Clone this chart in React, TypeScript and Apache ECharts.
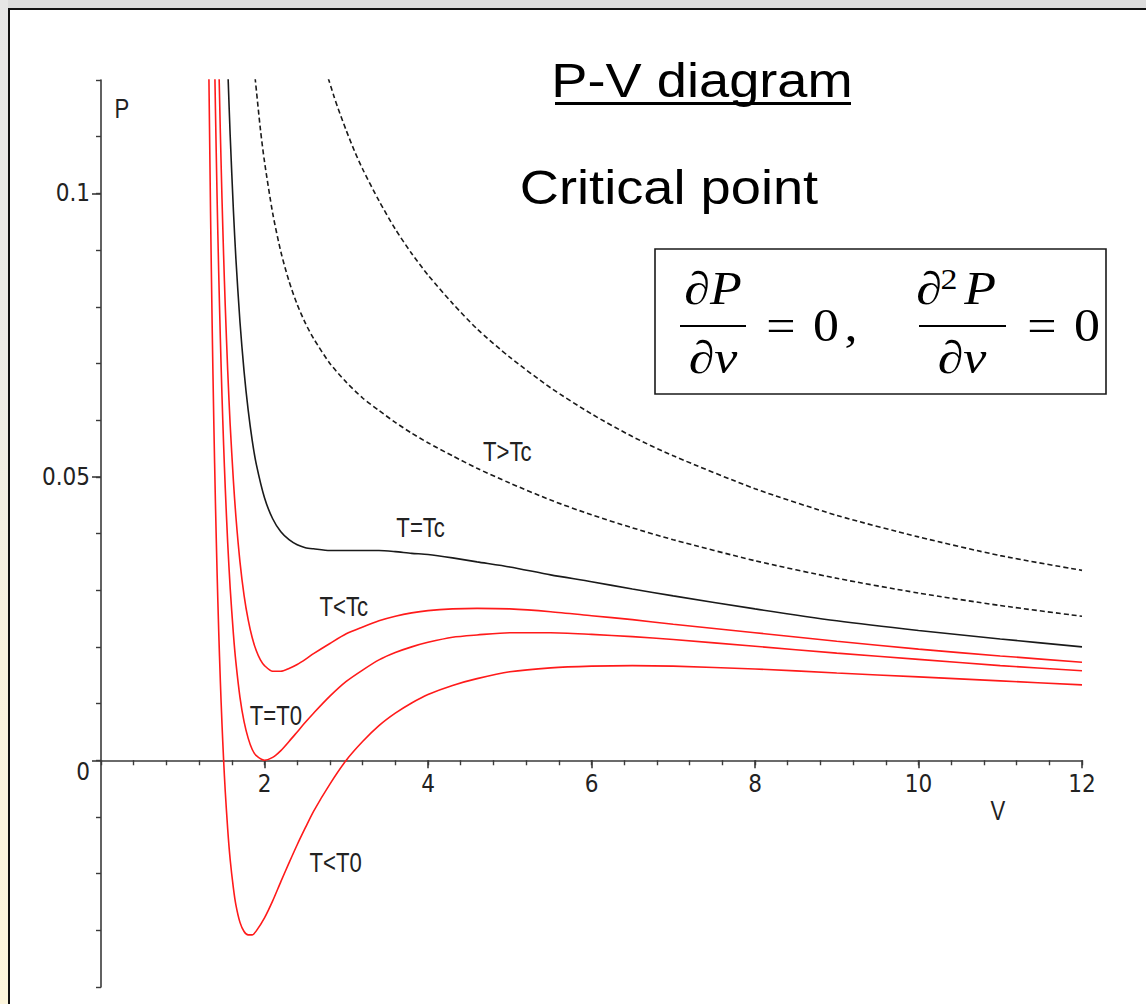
import React, { useEffect, useRef } from "react";
import * as echarts from "echarts";

// ---------- data ----------
const xMajorTicks = [0, 2, 4, 6, 8, 10, 12];
const yMajorTicks = [0, 0.05, 0.1];

// T > Tc (upper dashed curve)
const curveHot2: [number, number][] = [
  [2.78, 0.1203], [2.85, 0.1171], [2.9, 0.115], [3.0, 0.1111], [3.1, 0.1075], [3.2, 0.1043],
  [3.4, 0.0987], [3.6, 0.0937], [3.8, 0.0894], [4.0, 0.0856], [4.3, 0.0806], [4.6, 0.0761],
  [5.0, 0.0711], [5.5, 0.0657], [6.0, 0.0611], [6.5, 0.0571], [7.0, 0.0537], [8.0, 0.0479],
  [9.0, 0.0432], [10.0, 0.0394], [11.0, 0.0361], [12.0, 0.0335],
];
// T > Tc (lower dashed curve)
const curveHot1: [number, number][] = [
  [1.885, 0.1204], [1.95, 0.1113], [2.0, 0.1056], [2.1, 0.0965], [2.2, 0.0897], [2.3, 0.0845],
  [2.4, 0.0804], [2.5, 0.0771], [2.6, 0.0744], [2.8, 0.07], [3.0, 0.0667], [3.2, 0.0639],
  [3.4, 0.0617], [3.6, 0.0596], [3.8, 0.0577], [4.0, 0.056], [4.3, 0.0537], [4.6, 0.0515],
  [5.0, 0.0489], [5.5, 0.0459], [6.0, 0.0433], [6.5, 0.041], [7.0, 0.0389], [8.0, 0.0352],
  [9.0, 0.0321], [10.0, 0.0295], [11.0, 0.0273], [12.0, 0.0254],
];
// T = Tc
const curveCritical: [number, number][] = [
  [1.555, 0.1203], [1.58, 0.1103], [1.62, 0.0969], [1.65, 0.0885], [1.7, 0.0773], [1.75, 0.0686],
  [1.8, 0.0618], [1.85, 0.0564], [1.9, 0.0522], [2.0, 0.0463], [2.1, 0.0426], [2.2, 0.0403],
  [2.3, 0.0389], [2.4, 0.038], [2.5, 0.0375], [2.6, 0.0373], [2.8, 0.037], [3.0, 0.037],
  [3.2, 0.037], [3.4, 0.037], [3.6, 0.0368], [3.8, 0.0365], [4.0, 0.0363], [4.3, 0.0357],
  [4.6, 0.035], [5.0, 0.0341], [5.5, 0.0327], [6.0, 0.0315], [6.5, 0.0302], [7.0, 0.029],
  [8.0, 0.0267], [9.0, 0.0246], [10.0, 0.0229], [11.0, 0.0214], [12.0, 0.02],
];
// T < Tc
const curveSub: [number, number][] = [
  [1.445, 0.1204], [1.46, 0.1107], [1.48, 0.0991], [1.5, 0.089], [1.52, 0.0801], [1.55, 0.0687],
  [1.58, 0.0592], [1.62, 0.0492], [1.65, 0.043], [1.7, 0.035], [1.75, 0.0291], [1.8, 0.0248],
  [1.85, 0.0216], [1.9, 0.0193], [1.95, 0.0177], [2.0, 0.0167], [2.1, 0.0157], [2.2, 0.0157],
  [2.3, 0.0162], [2.4, 0.0169], [2.5, 0.0178], [2.6, 0.0188], [2.8, 0.0206], [3.0, 0.0223],
  [3.2, 0.0235], [3.4, 0.0246], [3.6, 0.0254], [3.8, 0.026], [4.0, 0.0264], [4.3, 0.0267],
  [4.6, 0.0268], [5.0, 0.0267], [5.5, 0.0262], [6.0, 0.0255], [6.5, 0.0248], [7.0, 0.024],
  [8.0, 0.0225], [9.0, 0.021], [10.0, 0.0196], [11.0, 0.0184], [12.0, 0.0173],
];
// T = T0
const curveT0: [number, number][] = [
  [1.39, 0.1234], [1.4, 0.1148], [1.42, 0.0993], [1.44, 0.0859], [1.46, 0.0744], [1.48, 0.0643],
  [1.5, 0.0556], [1.52, 0.048], [1.55, 0.0383], [1.58, 0.0304], [1.62, 0.0222], [1.65, 0.0173],
  [1.7, 0.0111], [1.75, 0.0068], [1.8, 0.0039], [1.85, 0.0019], [1.9, 0.0008], [2.0, 0.0],
  [2.1, 0.0005], [2.2, 0.0017], [2.3, 0.0033], [2.4, 0.005], [2.5, 0.0067], [2.6, 0.0083],
  [2.8, 0.0113], [3.0, 0.0139], [3.2, 0.0159], [3.4, 0.0177], [3.6, 0.019], [3.8, 0.02],
  [4.0, 0.0208], [4.3, 0.0217], [4.6, 0.0221], [5.0, 0.0225], [5.5, 0.0225], [6.0, 0.0222],
  [6.5, 0.0218], [7.0, 0.0213], [8.0, 0.0201], [9.0, 0.0189], [10.0, 0.0178], [11.0, 0.0167],
  [12.0, 0.0158],
];
// T < T0
const curveBelowT0: [number, number][] = [
  [1.32, 0.1205], [1.34, 0.0966], [1.36, 0.0765], [1.38, 0.0596], [1.4, 0.0453], [1.42, 0.0331],
  [1.44, 0.0227], [1.46, 0.0139], [1.48, 0.0064], [1.5, 0.0], [1.52, -0.0055], [1.55, -0.0122],
  [1.58, -0.0175], [1.62, -0.0226], [1.65, -0.0255], [1.7, -0.0286], [1.75, -0.0302],
  [1.8, -0.0308], [1.85, -0.0308], [1.9, -0.0301], [2.0, -0.0278], [2.1, -0.0248],
  [2.2, -0.0214], [2.3, -0.0181], [2.4, -0.0149], [2.5, -0.0119], [2.6, -0.009],
  [2.8, -0.0042], [3.0, 0.0], [3.2, 0.0033], [3.4, 0.0061], [3.6, 0.0083], [3.8, 0.0101],
  [4.0, 0.0116], [4.3, 0.0132], [4.6, 0.0144], [5.0, 0.0156], [5.5, 0.0163], [6.0, 0.0166],
  [6.5, 0.0167], [7.0, 0.0166], [8.0, 0.0161], [9.0, 0.0154], [10.0, 0.0147], [11.0, 0.014],
  [12.0, 0.0133],
];

// curve labels, anchored in data space [V, P]
const curveLabelNames = ["T>Tc", "T=Tc", "T<Tc", "T=T0", "T<T0"];
const curveLabelAnchors: [number, number][] = [
  [4.97, 0.0545], [3.91, 0.0411], [2.97, 0.027], [2.14, 0.0078], [2.87, -0.018],
];

// ---------- layout / styles ----------
const GRID = { left: 101, top: 80, width: 981, height: 907 };
const P_MIN = -0.04;
const P_MAX = 0.12;
// distance (px) from the grid bottom up to P = 0
const ZERO_OFFSET = (GRID.height * (0 - P_MIN)) / (P_MAX - P_MIN);

const NARROW = "'Liberation Sans Narrow', 'DejaVu Sans Condensed', 'Arial Narrow', sans-serif";
const SANS = "'Liberation Sans', Arial, sans-serif";
const SERIF = "'Liberation Serif', 'Times New Roman', serif";
const AXIS_COLOR = "#3a3a3a";
const TEXT_COLOR = "#222";
const RED = "#ff1a1a";
const BLACK = "#1a1a1a";
const STRETCH = 1.13;
const NARROWING = 0.82;

function txt(text: string, x: number, y: number, fontSize: number, fontFamily: string, extra: any = {}) {
  return {
    type: "text",
    x,
    y,
    scaleX: extra.scaleX ?? STRETCH,
    z: 50,
    silent: true,
    style: {
      text,
      fontSize,
      fontFamily,
      fontStyle: extra.fontStyle ?? "normal",
      fill: extra.fill ?? "#000",
      align: "center",
      textAlign: "center",
      verticalAlign: "middle",
      textVerticalAlign: "middle",
    },
  };
}

function staticGraphics() {
  return [
    // title
    txt("P-V diagram", 702, 81, 48, SANS),
    { type: "rect", silent: true, z: 50, shape: { x: 555, y: 102, width: 296, height: 3 }, style: { fill: "#000" } },
    txt("Critical point", 669, 188, 48, SANS),
    // formula box
    {
      type: "rect",
      silent: true,
      z: 40,
      shape: { x: 655, y: 249, width: 451, height: 145 },
      style: { fill: "#fff", stroke: "#1a1a1a", lineWidth: 1.6 },
    },
    txt("∂P", 713, 289, 46, SERIF, { fontStyle: "italic" }),
    { type: "rect", silent: true, z: 50, shape: { x: 680, y: 325, width: 66, height: 2 }, style: { fill: "#000" } },
    txt("∂v", 713, 358, 46, SERIF, { fontStyle: "italic" }),
    txt("=", 781, 326, 46, SERIF),
    txt("0", 826, 326, 46, SERIF),
    txt(",", 851, 326, 46, SERIF),
    txt("∂", 929, 289, 46, SERIF, { fontStyle: "italic" }),
    txt("2", 949, 279, 30, SERIF),
    txt("P", 980, 289, 46, SERIF, { fontStyle: "italic" }),
    { type: "rect", silent: true, z: 50, shape: { x: 919, y: 325, width: 87, height: 2 }, style: { fill: "#000" } },
    txt("∂v", 962, 358, 46, SERIF, { fontStyle: "italic" }),
    txt("=", 1042, 326, 46, SERIF),
    txt("0", 1087, 326, 46, SERIF),
    // axis names
    txt("P", 122, 109, 27, SANS, { scaleX: NARROWING, fill: TEXT_COLOR }),
    txt("V", 998, 811, 27, SANS, { scaleX: NARROWING, fill: TEXT_COLOR }),
  ];
}

function buildOption() {
  const lineSeries = (data: [number, number][], color: string, dashed: boolean) => ({
    type: "line",
    data,
    xAxisIndex: 0,
    yAxisIndex: 0,
    symbol: "none",
    showSymbol: false,
    smooth: 0.25,
    clip: true,
    silent: true,
    lineStyle: { color, width: 1.6, type: dashed ? [5, 3] : "solid" },
    z: 3,
  });

  const tickLabelStyle = { fontSize: 24, fontFamily: NARROW, color: TEXT_COLOR };

  return {
    animation: false,
    grid: { ...GRID, containLabel: false, outerBoundsMode: "none" },
    xAxis: [
      {
        type: "value",
        position: "bottom",
        offset: -ZERO_OFFSET,
        min: 0,
        max: 12,
        interval: 2,
        axisLine: { show: true, onZero: false, lineStyle: { color: AXIS_COLOR, width: 1.6 } },
        axisTick: { show: true, length: 8, lineStyle: { color: AXIS_COLOR, width: 1.6 } },
        axisLabel: {
          ...tickLabelStyle,
          showMinLabel: false,
          margin: 12,
          formatter: (v: number) => (xMajorTicks.includes(v) ? String(v) : ""),
        },
        splitLine: { show: false },
      },
      {
        type: "value",
        position: "bottom",
        offset: -ZERO_OFFSET,
        min: 0,
        max: 12,
        interval: 0.4,
        axisLine: { show: false, onZero: false },
        axisTick: { show: true, length: 5, lineStyle: { color: AXIS_COLOR, width: 1.4 } },
        axisLabel: { show: false },
        splitLine: { show: false },
      },
    ],
    yAxis: [
      {
        type: "value",
        position: "left",
        min: P_MIN,
        max: P_MAX,
        interval: 0.01,
        axisLine: { show: true, onZero: false, lineStyle: { color: AXIS_COLOR, width: 1.6 } },
        axisTick: { show: true, customValues: yMajorTicks, length: 9, lineStyle: { color: AXIS_COLOR, width: 1.6 } },
        axisLabel: {
          ...tickLabelStyle,
          customValues: yMajorTicks,
          margin: 11,
          formatter: (v: number) => (Math.abs(v) < 1e-9 ? "{z|0}" : String(Math.round(v * 100) / 100)),
          rich: {
            z: { ...tickLabelStyle, padding: [24, 0, 0, 0] },
          },
        },
        splitLine: { show: false },
      },
      {
        type: "value",
        position: "left",
        offset: 0,
        min: P_MIN,
        max: P_MAX,
        interval: 0.01,
        axisLine: { show: false, onZero: false },
        axisTick: { show: true, length: 5, lineStyle: { color: AXIS_COLOR, width: 1.4 } },
        axisLabel: { show: false },
        splitLine: { show: false },
      },
    ],
    series: [
      lineSeries(curveHot2, BLACK, true),
      lineSeries(curveHot1, BLACK, true),
      lineSeries(curveCritical, BLACK, false),
      lineSeries(curveSub, RED, false),
      lineSeries(curveT0, RED, false),
      lineSeries(curveBelowT0, RED, false),
    ],
    graphic: staticGraphics(),
  };
}

export default function App() {
  const ref = useRef<HTMLDivElement>(null);

  useEffect(() => {
    if (!ref.current) return;
    const chart = echarts.init(ref.current, undefined, { renderer: "svg" });
    chart.setOption(buildOption() as any);
    // curve labels placed through the chart's own scales
    const labelGraphics = curveLabelNames.map((name, i) => {
      const [px, py] = chart.convertToPixel({ gridIndex: 0 }, curveLabelAnchors[i]) as number[];
      return txt(name, px, py, 27, SANS, { scaleX: NARROWING, fill: TEXT_COLOR });
    });
    chart.setOption({ graphic: [...staticGraphics(), ...labelGraphics] } as any, { replaceMerge: ["graphic"] });
    return () => chart.dispose();
  }, []);

  return (
    <div
      style={{
        position: "fixed",
        left: 0,
        top: 0,
        width: 1146,
        height: 1004,
        background: "#dcdcdc",
        overflow: "hidden",
      }}
    >
      <div
        style={{
          position: "absolute",
          left: 0,
          top: 0,
          width: 8,
          height: 1004,
          background: "linear-gradient(to bottom, #e6e6e6 0%, #ecebe6 35%, #f8f2de 65%, #fdf6dc 100%)",
        }}
      />
      <div
        style={{
          position: "absolute",
          left: 8,
          top: 8,
          width: 1138,
          height: 996,
          boxSizing: "border-box",
          background: "#fff",
          borderTop: "2px solid #111",
          borderLeft: "2px solid #111",
        }}
      />
      <div ref={ref} style={{ position: "absolute", left: 0, top: 0, width: 1146, height: 1004 }} />
    </div>
  );
}
